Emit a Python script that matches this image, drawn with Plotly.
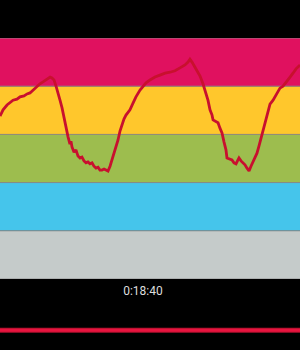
import plotly.graph_objects as go

# Heart-rate zones (% of max HR) and their colours
zone_edges = [50, 60, 70, 80, 90, 100]
zone_colors = ["#C5CBCA", "#45C5EB", "#9DBD4E", "#FFC72C", "#E0115F"]

# Elapsed time in seconds
time_s = [0, 24, 55, 78, 102, 133, 157, 188, 212, 235, 259, 282, 313, 337, 360, 392,
          407, 423, 439, 454, 470, 486, 501, 517, 533, 548, 556, 564, 580, 595, 611,
          627, 642, 658, 674, 689, 705, 721, 736, 752, 768, 783, 799, 815, 830, 846,
          862, 877, 893, 909, 924, 940, 956, 971, 987, 1003, 1018, 1042, 1065, 1097,
          1120, 1144, 1175, 1214, 1253, 1293, 1332, 1371, 1410, 1449, 1473, 1488,
          1504, 1528, 1551, 1567, 1590, 1606, 1629, 1645, 1661, 1669, 1692, 1708,
          1723, 1739, 1755, 1770, 1778, 1802, 1817, 1833, 1849, 1864, 1872, 1888,
          1904, 1919, 1935, 1951, 1966, 1982, 1998, 2013, 2029, 2045, 2060, 2076,
          2099, 2115, 2139, 2162, 2193, 2217, 2240, 2272, 2295, 2319, 2350]

# Heart rate in % of max
hr_pct = [83.8, 85.1, 86.1, 86.5, 87.1, 87.3, 87.8, 88.0, 88.4, 88.6, 89.2, 89.6, 90.5,
          90.9, 91.3, 91.9,
          91.7, 91.3, 90.0, 88.8, 87.1, 85.5, 83.4, 81.3, 79.5, 78.0, 78.6, 77.4, 76.3,
          76.8, 75.5,
          75.1, 75.3, 74.5, 74.1, 74.3, 73.9, 74.1, 73.4, 73.0, 73.2, 72.6, 72.6, 72.8,
          72.6, 72.4,
          73.4, 74.7, 75.7, 77.2, 78.8, 80.7, 82.2, 83.2, 84.0, 84.6, 85.1, 86.5, 87.8,
          89.2,
          90.0, 90.7, 91.3, 91.9, 92.3, 92.7, 92.9, 93.2, 93.8, 94.4, 95.0, 95.6,
          95.0, 94.0, 92.9, 92.1, 90.5, 89.2, 87.1, 85.1, 84.0, 83.0, 82.6, 82.4,
          81.3, 80.3, 78.4, 76.8, 75.1, 74.9, 74.7, 74.1, 73.9, 74.7, 75.1, 74.5,
          74.1, 73.7, 73.0, 72.4, 73.4, 74.3, 75.1, 76.1, 77.6, 79.3, 80.9, 82.6,
          85.1, 86.3, 87.1, 88.2, 89.6, 90.0, 90.9, 91.9, 92.7, 93.6, 94.4]

tick_vals = [1120]
tick_text = ["0:18:40"]
x_range = [0, 2350]

fig = go.Figure()

shapes = []
for i, col in enumerate(zone_colors):
    shapes.append(dict(type="rect", xref="paper", yref="y", x0=0, x1=1,
                       y0=zone_edges[i], y1=zone_edges[i + 1],
                       fillcolor=col, line=dict(width=0), layer="below"))
for e in zone_edges:
    shapes.append(dict(type="line", xref="paper", yref="y", x0=0, x1=1, y0=e, y1=e,
                       line=dict(color="rgba(140,140,140,0.9)", width=1), layer="below"))
# progress bar at the bottom
shapes.append(dict(type="line", xref="paper", yref="paper", x0=0, x1=1,
                   y0=-0.213, y1=-0.213, line=dict(color="#B0102E", width=5)))
shapes.append(dict(type="line", xref="paper", yref="paper", x0=0, x1=1,
                   y0=-0.213, y1=-0.213, line=dict(color="#E8143F", width=3)))

fig.add_trace(go.Scatter(x=time_s, y=hr_pct, mode="lines",
                         line=dict(color="#C8102E", width=2.8), hoverinfo="skip"))

fig.update_layout(
    width=300, height=350,
    margin=dict(l=0, r=0, t=38, b=71),
    paper_bgcolor="black", plot_bgcolor="black",
    showlegend=False,
    shapes=shapes,
    font=dict(family="Roboto", color="#DDDDDD", size=12),
    xaxis=dict(range=x_range, tickvals=tick_vals, ticktext=tick_text,
               showgrid=False, zeroline=False, showline=False, ticks="",
               ticklabelstandoff=3,
               tickfont=dict(color="#DDDDDD", size=12), fixedrange=True),
    yaxis=dict(range=[zone_edges[0], zone_edges[-1]], visible=False, fixedrange=True),
)

fig.write_html("out.html", config={"displayModeBar": False})
